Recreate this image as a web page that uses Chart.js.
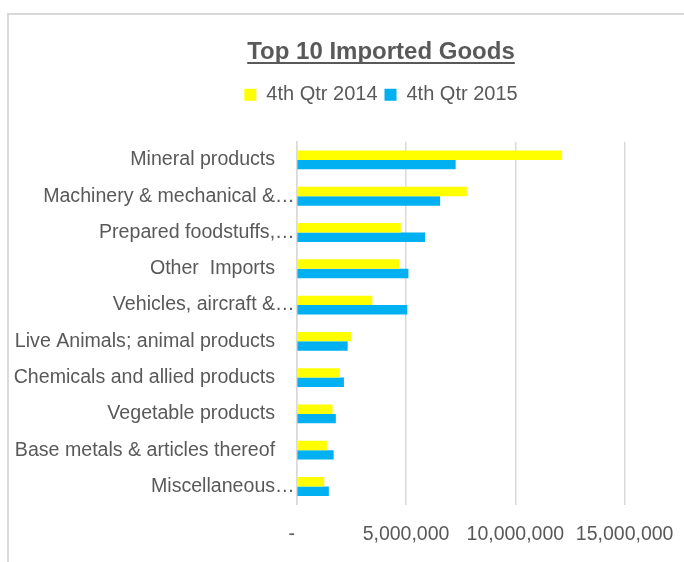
<!DOCTYPE html>
<html>
<head>
<meta charset="utf-8">
<script src="https://cdn.jsdelivr.net/npm/chart.js@4.4.1/dist/chart.umd.min.js"></script>
<style>
  html, body { margin: 0; padding: 0; background: #fff; overflow: hidden; }
  #frame {
    position: absolute; left: 7px; top: 13px; width: 780px; height: 620px;
    border-left: 2px solid #d9d9d9; border-top: 2px solid #d9d9d9;
  }
  canvas { display: block; }
</style>
</head>
<body>
<div id="frame"><canvas id="importsChart" width="744" height="570"></canvas></div>
<script>
const categories = [
  "Mineral products",
  "Machinery & mechanical &\u2026",
  "Prepared foodstuffs,\u2026",
  "Other  Imports",
  "Vehicles, aircraft &\u2026",
  "Live Animals; animal products",
  "Chemicals and allied products",
  "Vegetable products",
  "Base metals & articles thereof",
  "Miscellaneous\u2026"
];
const qtr2014 = [12140000, 7780000, 4760000, 4700000, 3460000, 2480000, 1970000, 1640000, 1380000, 1260000];
const qtr2015 = [7270000, 6560000, 5870000, 5110000, 5060000, 2330000, 2160000, 1790000, 1690000, 1470000];
const xTicks = [0, 5000000, 10000000, 15000000, 20000000];

const textColor = "#595959";
const gridColor = "#d9d9d9";
const fontFamily = "'Liberation Sans', Arial, sans-serif";

function fmt(v) {
  if (v === 0) return "-\u2002";
  return String(v).replace(/\B(?=(\d{3})+(?!\d))/g, ",");
}

// underline under the title, like the Excel original
const titleUnderline = {
  id: "titleUnderline",
  afterDraw(chart) {
    const t = chart.titleBlock;
    if (!t) return;
    const ctx = chart.ctx;
    const opts = chart.options.plugins.title;
    const f = opts.font;
    ctx.save();
    ctx.font = "bold " + f.size + "px " + f.family;
    const w = ctx.measureText(opts.text).width;
    const cx = (t.left + t.right) / 2;
    const cy = t.top + opts.padding.top + f.size * 1.2 / 2;
    ctx.strokeStyle = textColor;
    ctx.lineWidth = 2;
    ctx.beginPath();
    ctx.moveTo(cx - w / 2, cy + 11);
    ctx.lineTo(cx + w / 2, cy + 11);
    ctx.stroke();
    ctx.restore();
  }
};

// extra room between legend and plot
const legendGap = {
  id: "legendGap",
  beforeInit(chart) {
    const fit = chart.legend.fit;
    chart.legend.fit = function () {
      fit.bind(chart.legend)();
      this.height += 27;
    };
  }
};

const ctx = document.getElementById("importsChart");
new Chart(ctx, {
  type: "bar",
  data: {
    labels: categories,
    datasets: [
      { label: "4th Qtr 2014", data: qtr2014, backgroundColor: "#ffff00" },
      { label: "4th Qtr 2015", data: qtr2015, backgroundColor: "#00b0f0" }
    ]
  },
  options: {
    indexAxis: "y",
    responsive: false,
    animation: false,
    categoryPercentage: 0.52,
    barPercentage: 1.0,
    layout: { padding: { top: 0, right: 0, bottom: 21, left: 0 } },
    plugins: {
      title: {
        display: true,
        text: "Top 10 Imported Goods",
        color: textColor,
        font: { family: fontFamily, size: 24, weight: "bold" },
        padding: { top: 22.6, bottom: 11.4 }
      },
      legend: {
        display: true,
        labels: {
          color: textColor,
          font: { family: fontFamily, size: 20 },
          boxWidth: 12,
          boxHeight: 12,
          padding: 7
        }
      },
      tooltip: { enabled: false }
    },
    scales: {
      x: {
        min: 0,
        max: 20870000,
        afterBuildTicks: s => { s.ticks = xTicks.map(v => ({ value: v })); },
        afterFit: s => { s.paddingLeft = 0; s.paddingRight = 0; },
        grid: { color: gridColor, lineWidth: 1.5, drawTicks: false },
        border: { display: false },
        ticks: {
          color: textColor,
          font: { family: fontFamily, size: 19.5 },
          padding: 18,
          maxRotation: 0,
          autoSkip: false,
          callback: v => fmt(v)
        }
      },
      y: {
        afterFit: s => { s.width = 287.7; },
        grid: { display: false },
        border: { display: true, color: gridColor, width: 1.5 },
        ticks: {
          color: textColor,
          font: { family: fontFamily, size: 19.6 },
          padding: -6,
          autoSkip: false,
          callback: (v, i) => categories[i].endsWith("\u2026") ? categories[i] : categories[i] + "\u2002\u2002"
        }
      }
    }
  },
  plugins: [titleUnderline, legendGap]
});
</script>
</body>
</html>
